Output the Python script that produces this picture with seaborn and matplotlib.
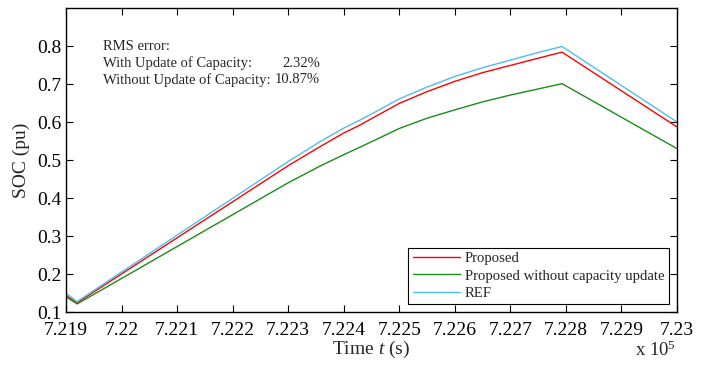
import numpy as np
import pandas as pd
import matplotlib
matplotlib.use("Agg")
import matplotlib.pyplot as plt
import seaborn as sns

# ---- data (time in seconds) ----
time_s = [721900, 721920, 722000, 722100, 722200, 722300, 722356, 722400,
          722428, 722460, 722500, 722550, 722600, 722650, 722700, 722750,
          722793, 723000]
soc_ref = [0.150, 0.128, 0.206, 0.303, 0.400, 0.497, 0.548, 0.585,
           0.605, 0.630, 0.662, 0.693, 0.721, 0.744, 0.764, 0.784,
           0.800, 0.601]
soc_proposed = [0.144, 0.125, 0.201, 0.296, 0.391, 0.486, 0.535, 0.572,
                0.592, 0.618, 0.650, 0.681, 0.708, 0.731, 0.750, 0.769,
                0.785, 0.588]
soc_no_update = [0.141, 0.122, 0.189, 0.273, 0.357, 0.441, 0.484, 0.515,
                 0.534, 0.556, 0.584, 0.611, 0.633, 0.654, 0.672, 0.688,
                 0.702, 0.531]
series_names = ["Proposed", "Proposed without capacity update", "REF"]
series_colors = ["#ff0000", "#1a8c1a", "#4dbeee"]
x_ticks = [721900, 722000, 722100, 722200, 722300, 722400, 722500,
           722600, 722700, 722800, 722900, 723000]
y_ticks = [0.1, 0.2, 0.3, 0.4, 0.5, 0.6, 0.7, 0.8]
rms_labels = ["With Update of Capacity:", "Without Update of Capacity:"]
rms_values = ["2.32%", "10.87%"]

df = pd.concat([
    pd.DataFrame({"t": time_s, "soc": soc_proposed, "series": series_names[0]}),
    pd.DataFrame({"t": time_s, "soc": soc_no_update, "series": series_names[1]}),
    pd.DataFrame({"t": time_s, "soc": soc_ref, "series": series_names[2]}),
])

sns.set_theme(style="ticks")
plt.rcParams["font.family"] = ["Liberation Serif", "DejaVu Serif"]
plt.rcParams["mathtext.fontset"] = "custom"
plt.rcParams["mathtext.rm"] = "Liberation Serif"
plt.rcParams["mathtext.it"] = "Liberation Serif:italic"

fig = plt.figure(figsize=(7.08, 3.68), dpi=100)
ax = fig.add_axes([0.0932, 0.1514, 0.9562 - 0.0932, 0.977 - 0.1514])

sns.lineplot(data=df, x="t", y="soc", hue="series", hue_order=series_names,
             palette=dict(zip(series_names, series_colors)), linewidth=1.0,
             ax=ax, sort=False, estimator=None)

ax.set_xlim(721900, 723000)
ax.set_ylim(0.1, 0.9)
ax.set_xticks(x_ticks)
ax.set_xticklabels(["%g" % (v / 1e5) for v in x_ticks])
ax.set_yticks(y_ticks)
ax.set_yticklabels(["%g" % v for v in y_ticks])
ax.tick_params(direction="in", length=5, width=0.8, top=True, right=True,
               labelsize=14, colors="black")
ax.tick_params(axis="x", pad=7)
ax.tick_params(axis="y", pad=3)
for s in ax.spines.values():
    s.set_visible(True)
    s.set_color("black")
    s.set_linewidth(1.0)

ax.set_xlabel(r"Time $\it{t}$ (s)", fontsize=14, labelpad=0)
ax.set_ylabel("SOC (pu)", fontsize=14, labelpad=5)
fig.text(0.955, 0.022, r"x 10$^5$", ha="right", va="bottom", fontsize=13.5)

# RMS annotation
fs_txt = 10.5
ax.text(0.061, 0.875, "RMS error:", transform=ax.transAxes, fontsize=fs_txt,
        va="center", ha="left")
for i, (lab, val) in enumerate(zip(rms_labels, rms_values)):
    yy = 0.875 - 0.055 * (i + 1)
    ax.text(0.061, yy, lab, transform=ax.transAxes, fontsize=fs_txt, va="center", ha="left")
    ax.text(0.416, yy, val, transform=ax.transAxes, fontsize=fs_txt, va="center", ha="right")

leg = ax.legend(loc="lower right", bbox_to_anchor=(0.987, 0.027), borderaxespad=0,
                fontsize=10.6, frameon=True, fancybox=False, edgecolor="black",
                framealpha=1, handlelength=3.2, borderpad=0.3, labelspacing=0.26,
                handletextpad=0.35)
leg.get_frame().set_linewidth(0.8)
leg.set_title(None)

fig.savefig("out.png", dpi=100)
